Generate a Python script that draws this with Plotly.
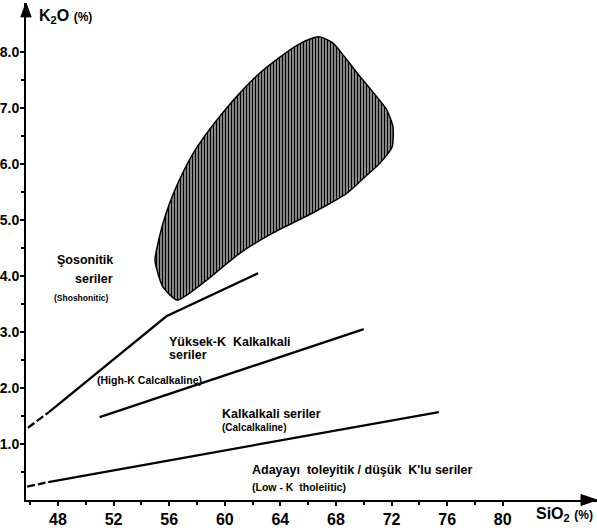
import plotly.graph_objects as go

# ---- data (SiO2 %, K2O %) ----
sho_dash_x = [45.84, 47.35]
sho_dash_y = [1.29, 1.57]
sho_x = [47.35, 55.8, 62.4]
sho_y = [1.57, 3.28, 4.05]

hik_x = [51.0, 70.0]
hik_y = [1.48, 3.05]

lowk_dash_x = [45.78, 47.1]
lowk_dash_y = [0.24, 0.31]
lowk_x = [47.3, 75.4]
lowk_y = [0.32, 1.57]

blob_x = [54.98, 55.30, 55.75, 56.35, 57.05, 57.85, 58.80, 59.90, 61.10, 62.50, 63.97,
          65.20, 66.35, 66.85, 67.79, 68.60, 69.51, 70.60, 71.67, 72.10, 72.03, 71.17,
          70.00, 68.79, 66.35, 63.47, 61.10, 58.72, 57.50, 56.56, 55.56, 55.12, 54.98]
blob_y = [4.29, 4.70, 5.10, 5.50, 5.88, 6.24, 6.58, 6.93, 7.27, 7.62, 7.91,
          8.12, 8.25, 8.27, 8.16, 7.92, 7.63, 7.30, 6.96, 6.66, 6.30, 6.02,
          5.75, 5.48, 5.13, 4.77, 4.41, 3.93, 3.70, 3.57, 3.80, 4.11, 4.29]

x_ticks = [48, 52, 56, 60, 64, 68, 72, 76, 80]
x_minor = [46, 50, 54, 58, 62, 66, 70, 74, 78]
y_ticks = [1, 2, 3, 4, 5, 6, 7, 8]
y_ticklabels = ["1.0", "2.0", "3.0", "4.0", "5.0", "6.0", "7.0", "8.0"]
y_minor = [0.5, 1.5, 2.5, 3.5, 4.5, 5.5, 6.5, 7.5]

labels = [
    ("Şosonitik", 47.79, 4.29, 12.5),
    ("seriler", 49.08, 3.95, 12.5),
    ("(Shoshonitic)", 47.57, 3.61, 8.5),
    ("Yüksek-K\u00a0\u00a0Kalkalkali", 55.84, 2.82, 12.5),
    ("seriler", 55.84, 2.59, 12.5),
    ("(High-K Calcalkaline)", 50.66, 2.14, 10.5),
    ("Kalkalkali seriler", 59.66, 1.54, 12.5),
    ("(Calcalkaline)", 59.66, 1.30, 10),
    ("Adayayı\u00a0 toleyitik / düşük\u00a0 K'lu seriler", 61.81, 0.54, 12.5),
    ("(Low - K\u00a0 tholeiitic)", 61.81, 0.23, 10.5),
]

FONT = "Liberation Sans, Arial, sans-serif"

fig = go.Figure()

fig.add_trace(go.Scatter(
    x=blob_x, y=blob_y, mode="lines", fill="toself",
    line=dict(color="black", width=1.5, shape="spline", smoothing=0.6),
    fillcolor="rgba(0,0,0,0)",
    fillpattern=dict(shape="|", size=3, solidity=0.65, fgcolor="black", bgcolor="white"),
    hoverinfo="skip", showlegend=False))

for xs, ys, dash in [(sho_dash_x, sho_dash_y, "8px,3px"), (sho_x, sho_y, "solid"),
                     (hik_x, hik_y, "solid"),
                     (lowk_dash_x, lowk_dash_y, "8px,3px"), (lowk_x, lowk_y, "solid")]:
    fig.add_trace(go.Scatter(x=xs, y=ys, mode="lines",
                             line=dict(color="black", width=2.3, dash=dash),
                             hoverinfo="skip", showlegend=False))

for text, x, y, size in labels:
    fig.add_annotation(x=x, y=y, text=text, showarrow=False, xanchor="left",
                       yanchor="middle", font=dict(family=FONT, size=size, color="black", weight="bold"))

# axis titles
fig.add_annotation(xref="paper", yref="paper", x=0.019, y=0.972,
                   text="K<sub>2</sub>O <span style='font-size:12px'>(%)</span>",
                   showarrow=False, xanchor="left", yanchor="middle",
                   font=dict(family=FONT, size=16, color="black", weight="bold"))
fig.add_annotation(xref="paper", yref="paper", x=0.89, y=-0.03,
                   text="SiO<sub>2</sub> <span style='font-size:12px'>(%)</span>",
                   showarrow=False, xanchor="left", yanchor="middle",
                   font=dict(family=FONT, size=16, color="black", weight="bold"))

# arrowheads
fig.add_shape(type="path", xref="paper", yref="paper",
              path="M 1 0 L 0.972 0.011 L 0.972 -0.011 Z", fillcolor="black", line=dict(color="black", width=1))
fig.add_shape(type="path", xref="paper", yref="paper",
              path="M 0 1 L -0.009 0.972 L 0.009 0.972 Z", fillcolor="black", line=dict(color="black", width=1))

xtickfont = dict(family=FONT, size=16, color="black", weight="bold")
ytickfont = dict(family=FONT, size=14, color="black", weight="bold")

fig.update_layout(
    width=597, height=531,
    margin=dict(l=26, r=0, t=3, b=31),
    paper_bgcolor="white", plot_bgcolor="white",
    template="none",
    xaxis=dict(range=[45.7, 86.78], showgrid=False, zeroline=False, showline=True,
               linecolor="black", linewidth=2, ticks="outside", ticklen=4, tickwidth=1.5,
               tickcolor="black", tickvals=x_ticks, ticktext=[str(v) for v in x_ticks],
               tickfont=xtickfont, automargin=False,
               minor=dict(tickvals=x_minor, ticks="outside", ticklen=3, tickwidth=1.5, tickcolor="black")),
    yaxis=dict(range=[0, 8.875], showgrid=False, zeroline=False, showline=True,
               linecolor="black", linewidth=2, ticks="outside", ticklen=4, tickwidth=1.5,
               tickcolor="black", tickvals=y_ticks, ticktext=y_ticklabels,
               tickfont=ytickfont, automargin=False, ticklabelstandoff=-2,
               minor=dict(tickvals=y_minor, ticks="outside", ticklen=3, tickwidth=1.5, tickcolor="black")),
)

fig.write_html("out.html")
